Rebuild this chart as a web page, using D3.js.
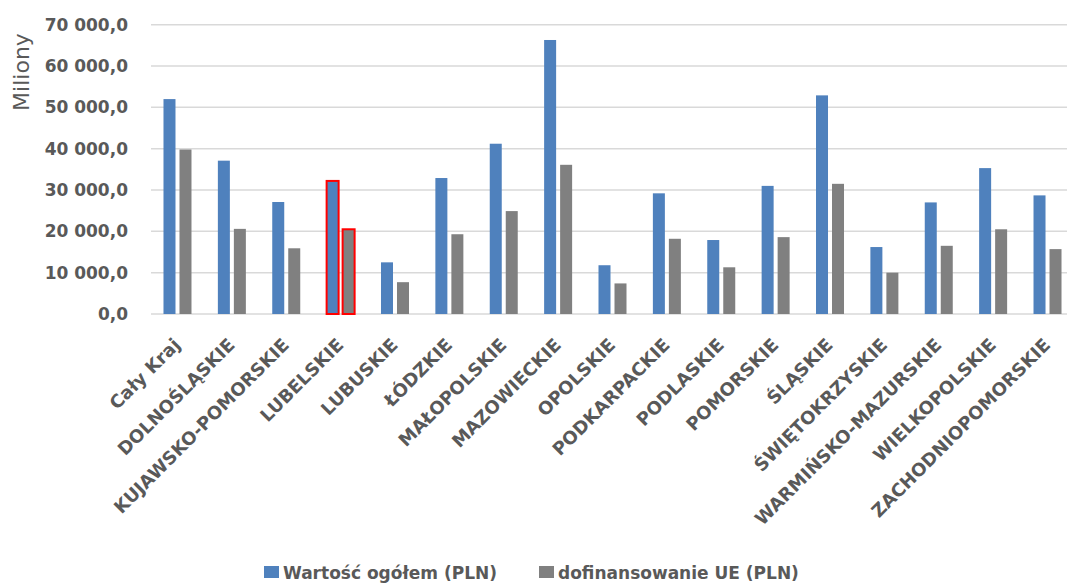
<!DOCTYPE html>
<html>
<head>
<meta charset="utf-8">
<script src="https://cdn.jsdelivr.net/npm/d3@7"></script>
<style>
  body { margin: 0; background: #fff; }
  svg { display: block; }
  .tick-label { font-family: "DejaVu Sans", sans-serif; font-weight: bold; fill: #595959; }
  .grid { stroke: #d9d9d9; stroke-width: 1.5; }
</style>
</head>
<body>
<svg width="1067" height="583"></svg>
<script>
// województwa
var categories = ["Cały Kraj", "DOLNOŚLĄSKIE", "KUJAWSKO-POMORSKIE", "LUBELSKIE", "LUBUSKIE",
  "ŁÓDZKIE", "MAŁOPOLSKIE", "MAZOWIECKIE", "OPOLSKIE", "PODKARPACKIE", "PODLASKIE",
  "POMORSKIE", "ŚLĄSKIE", "ŚWIĘTOKRZYSKIE", "WARMIŃSKO-MAZURSKIE", "WIELKOPOLSKIE",
  "ZACHODNIOPOMORSKIE"];

// wartości w milionach PLN
var wartoscOgolem = [52000, 37100, 27100, 32200, 12500, 32900, 41200, 66300, 11800,
  29200, 17900, 31000, 52900, 16200, 27000, 35300, 28700];
var dofinansowanieUE = [39800, 20600, 15900, 20500, 7700, 19300, 24900, 36100, 7400,
  18200, 11300, 18600, 31500, 10000, 16500, 20500, 15700];

var seriesNames = ["Wartość ogółem (PLN)", "dofinansowanie UE (PLN)"];
var seriesColors = ["#4f81bd", "#808080"];
var yTicks = [0, 10000, 20000, 30000, 40000, 50000, 60000, 70000];
var highlighted = "LUBELSKIE";

var svg = d3.select("svg");
var g = svg.append("g");

var plLocale = d3.formatLocale({ decimal: ",", thousands: " ", grouping: [3], currency: ["", " zł"] });
var fmt = plLocale.format(",.1f");

// skale
var x = d3.scaleBand().domain(categories).range([150.3, 1074.7]);
var xInner = d3.scaleBand().domain([0, 1]).range([-14, 14]).paddingInner(0.25);
var y = d3.scaleLinear().domain([0, 70000]).range([314, 24.7]);

// linie siatki
g.selectAll(".grid")
  .data(yTicks)
  .enter()
  .append("line")
    .attr("class", "grid")
    .attr("x1", 151)
    .attr("x2", 1067)
    .attr("y1", d => y(d))
    .attr("y2", d => y(d));

// etykiety osi Y
g.selectAll(".ylab")
  .data(yTicks)
  .enter()
  .append("text")
    .attr("class", "tick-label ylab")
    .attr("x", 128)
    .attr("y", d => y(d) + 6)
    .attr("text-anchor", "end")
    .style("font-size", "17px")
    .text(d => fmt(d));

// tytuł osi
svg.append("text")
  .attr("transform", "translate(29,72) rotate(-90)")
  .attr("text-anchor", "middle")
  .style("font-family", "DejaVu Sans, sans-serif")
  .style("font-size", "22px")
  .style("fill", "#595959")
  .text("Miliony");

// słupki
var rows = categories.map((c, i) => ({ cat: c, values: [wartoscOgolem[i], dofinansowanieUE[i]] }));

var groups = g.selectAll(".grp")
  .data(rows)
  .enter()
  .append("g")
    .attr("class", "grp")
    .attr("transform", d => "translate(" + (x(d.cat) + x.bandwidth() / 2) + ",0)");

groups.selectAll("rect")
  .data(d => d.values.map((v, k) => ({ v: v, k: k, cat: d.cat })))
  .enter()
  .append("rect")
    .attr("x", d => xInner(d.k))
    .attr("width", xInner.bandwidth())
    .attr("y", d => y(d.v))
    .attr("height", d => y(0) - y(d.v))
    .attr("fill", d => seriesColors[d.k])
    .attr("stroke", d => d.cat === highlighted ? "#ff0000" : "none")
    .attr("stroke-width", 2);

// etykiety osi X
g.selectAll(".xlab")
  .data(categories)
  .enter()
  .append("text")
    .attr("class", "tick-label xlab")
    .attr("transform", d => "translate(" + (x(d) + x.bandwidth() / 2 + 4) + ",346) rotate(-45)")
    .attr("text-anchor", "end")
    .style("font-size", "18px")
    .text(d => d);

// legenda
var legendX = [264, 539];
var legend = svg.selectAll(".legend")
  .data(seriesNames)
  .enter()
  .append("g")
    .attr("class", "legend")
    .attr("transform", (d, i) => "translate(" + legendX[i] + ",566)");

legend.append("rect")
  .attr("width", 15)
  .attr("height", 12)
  .attr("fill", (d, i) => seriesColors[i]);

legend.append("text")
  .attr("class", "tick-label")
  .attr("x", 19)
  .attr("y", 13)
  .style("font-size", "17px")
  .text(d => d);
</script>
</body>
</html>
